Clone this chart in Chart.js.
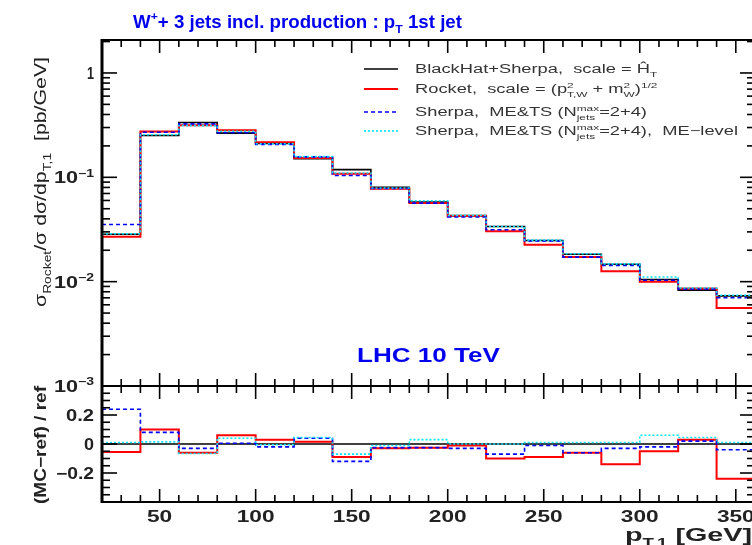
<!DOCTYPE html>
<html>
<head>
<meta charset="utf-8">
<script src="https://cdn.jsdelivr.net/npm/chart.js@4.4.1/dist/chart.umd.min.js"></script>
<style>
  html, body { margin: 0; padding: 0; background: #fff; overflow: hidden; }
  #wrap { width: 752px; height: 545px; overflow: hidden; }
</style>
</head>
<body>
<div id="wrap"><canvas id="plot" width="760" height="545"></canvas></div>
<script>
// bin edges of p_T,1 [GeV]
const binEdges = [20, 40, 60, 80, 100, 120, 140, 160, 180, 200, 220, 240, 260, 280, 300, 320, 340, 360];

// dσ/dp_T [pb/GeV], one value per bin
const blackHat = [0.0285, 0.252, 0.335, 0.265, 0.211, 0.151, 0.1186, 0.080, 0.058, 0.043, 0.0338, 0.0248, 0.0183, 0.0147, 0.0105, 0.0083, 0.0073];
const rocket   = [0.0270, 0.275, 0.315, 0.283, 0.217, 0.153, 0.108, 0.0776, 0.0566, 0.0426, 0.0304, 0.0226, 0.0172, 0.0126, 0.0100, 0.0086, 0.0056];
const sherpa   = [0.0353, 0.270, 0.325, 0.267, 0.207, 0.157, 0.104, 0.078, 0.0566, 0.0417, 0.0314, 0.0245, 0.0172, 0.0143, 0.0103, 0.0085, 0.0070];
const sherpaME = [0.0288, 0.256, 0.313, 0.276, 0.210, 0.158, 0.110, 0.079, 0.0597, 0.043, 0.0338, 0.0250, 0.0185, 0.0148, 0.0111, 0.0087, 0.0074];

// (MC-ref)/ref, ref = BlackHat+Sherpa
const blackHatRatio = [0, 0, 0, 0, 0, 0, 0, 0, 0, 0, 0, 0, 0, 0, 0, 0, 0];
const rocketRatio   = [-0.055, 0.10, -0.06, 0.06, 0.03, 0.015, -0.09, -0.03, -0.025, -0.01, -0.10, -0.09, -0.06, -0.14, -0.05, 0.03, -0.24];
const sherpaRatio   = [0.24, 0.08, -0.03, 0.005, -0.02, 0.04, -0.12, -0.025, -0.025, -0.03, -0.07, -0.01, -0.06, -0.03, -0.02, 0.02, -0.04];
const sherpaMERatio = [0.01, 0.015, -0.065, 0.04, -0.005, 0.045, -0.07, -0.01, 0.03, 0, 0, 0.01, 0.01, 0.01, 0.06, 0.045, 0.01];

// tick labels
const xTickValues = [50, 100, 150, 200, 250, 300, 350];
const topTickValues = [1, 0.1, 0.01, 0.001];
const topTickLabels = [[{t: "1"}], [{t: "10"}, {sup: "\u22121"}], [{t: "10"}, {sup: "\u22122"}], [{t: "10"}, {sup: "\u22123"}]];
const ratioTickValues = [0.2, 0, -0.2];
const ratioTickLabels = ["0.2", "0", "\u22120.2"];

const FONT = "'Liberation Sans', Arial, Helvetica, sans-serif";

function steps(vals) {
  const pts = vals.map((v, i) => ({ x: binEdges[i], y: v }));
  pts.push({ x: binEdges[vals.length], y: vals[vals.length - 1] });
  return pts;
}

// draw text made of normal / superscript / subscript pieces
function drawRich(ctx, x, y, segs, size, weight, measureOnly) {
  let cx = x;
  const small = size * 0.65;
  segs.forEach((s) => {
    if (s.t !== undefined) {
      ctx.font = weight + " " + size + "px " + FONT;
      if (!measureOnly) ctx.fillText(s.t, cx, y);
      cx += ctx.measureText(s.t).width;
    } else {
      ctx.font = weight + " " + small + "px " + FONT;
      let w1 = 0, w2 = 0;
      if (s.sup) {
        if (!measureOnly) ctx.fillText(s.sup, cx, y - size * 0.42);
        w1 = ctx.measureText(s.sup).width;
      }
      if (s.sub) {
        if (!measureOnly) ctx.fillText(s.sub, cx, y + size * 0.3);
        w2 = ctx.measureText(s.sub).width;
      }
      cx += Math.max(w1, w2);
    }
  });
  return cx - x;
}

// text stretched horizontally to a given width; align: 'left' | 'right' | 'center'
function drawFit(ctx, x, y, segs, size, weight, color, width, align, rotate) {
  ctx.save();
  ctx.fillStyle = color;
  ctx.textBaseline = "alphabetic";
  ctx.textAlign = "left";
  const w = drawRich(ctx, 0, 0, segs, size, weight, true);
  const sx = width ? width / w : 1;
  ctx.translate(x, y);
  if (rotate) ctx.rotate(-Math.PI / 2);
  ctx.scale(sx, 1);
  let x0 = 0;
  if (align === "right") x0 = -w;
  if (align === "center") x0 = -w / 2;
  drawRich(ctx, x0, 0, segs, size, weight, false);
  ctx.restore();
  return w * sx;
}

function line(ctx, x1, y1, x2, y2) {
  ctx.beginPath();
  ctx.moveTo(x1, y1);
  ctx.lineTo(x2, y2);
  ctx.stroke();
}

const framePlugin = {
  id: "frame",
  afterDraw(chart) {
    const ctx = chart.ctx;
    const xs = chart.scales.x, ys = chart.scales.y, rs = chart.scales.ratio;
    const L = chart.chartArea.left, R = chart.chartArea.right;
    const panels = [[ys.top, ys.bottom], [rs.top, rs.bottom]];

    ctx.save();
    ctx.strokeStyle = "#000";
    ctx.lineCap = "butt";

    // ticks along x, both panels, top and bottom edges, pointing inside
    ctx.lineWidth = 1.6;
    for (let v = 20; v <= 360; v += 10) {
      const px = xs.getPixelForValue(v);
      const len = v % 50 === 0 ? 13 : 7;
      panels.forEach(([t, b]) => {
        line(ctx, px, t, px, t + len);
        line(ctx, px, b, px, b - len);
      });
    }
    // log ticks
    for (let d = -3; d <= 0; d++) {
      for (let k = 1; k <= 9; k++) {
        const v = k * Math.pow(10, d);
        if (v > ys.max) break;
        const py = ys.getPixelForValue(v);
        const len = k === 1 ? 15 : 8;
        line(ctx, L, py, L + len, py);
        line(ctx, R, py, R - len, py);
      }
    }
    // ratio ticks
    for (let i = -8; i <= 8; i++) {
      const v = i * 0.05;
      const py = rs.getPixelForValue(v);
      const len = i % 4 === 0 ? 15 : 8;
      line(ctx, L, py, L + len, py);
      line(ctx, R, py, R - len, py);
    }

    // frames
    ctx.lineWidth = 2;
    panels.forEach(([t, b]) => ctx.strokeRect(L, t, R - L, b - t));
    ctx.lineWidth = 3;
    line(ctx, L, ys.top - 1, L, rs.bottom + 1);
    ctx.restore();

    const tickCol = "#222";
    // x tick labels
    xTickValues.forEach((v) => {
      drawFit(ctx, xs.getPixelForValue(v), 522, [{ t: String(v) }], 16, "bold", tickCol, String(v).length * 12.6, "center");
    });
    // top y tick labels
    topTickValues.forEach((v, i) => {
      const py = ys.getPixelForValue(v);
      const w = i === 0 ? 7 : 40;
      drawFit(ctx, 94, py + 6, topTickLabels[i], 16, "bold", tickCol, w, "right");
    });
    // ratio tick labels
    ratioTickValues.forEach((v, i) => {
      const py = rs.getPixelForValue(v);
      const w = [28, 10, 38][i];
      drawFit(ctx, 94, py + 6, [{ t: ratioTickLabels[i] }], 16, "bold", tickCol, w, "right");
    });

    // title
    drawFit(ctx, 133, 28, [{ t: "W" }, { sup: "+" }, { t: "+ 3 jets incl. production : p" }, { sub: "T" }, { t: " 1st jet" }],
      18, "bold", "#0000ee", 329, "left");
    // LHC label
    drawFit(ctx, 357, 362, [{ t: "LHC 10 TeV" }], 20, "bold", "#0000ee", 143, "left");
    // x title
    drawFit(ctx, 752, 541, [{ t: "p" }, { sub: "T,1" }, { t: " [GeV]" }], 19, "bold", tickCol, 127, "right");
    // y titles
    drawFit(ctx, 46, 182, [{ t: "\u03c3" }, { sub: "Rocket" }, { t: "/\u03c3 d\u03c3/dp" }, { sub: "T,1" }, { t: "  [pb/GeV]" }],
      16, "normal", tickCol, 250, "center", true);
    drawFit(ctx, 46, 445, [{ t: "(MC\u2212ref) / ref" }], 16, "bold", tickCol, 118, "center", true);

    // legend
    const legendRows = [
      { y: 69, color: "#000", dash: [], width: 1.6, text: [{ t: "BlackHat+Sherpa,  scale = \u0124" }, { sub: "T" }] },
      { y: 89, color: "#ff0000", dash: [], width: 2, text: [{ t: "Rocket,  scale = (p" }, { sup: "2", sub: "T,W" }, { t: " + m" }, { sup: "2", sub: "W" }, { t: ")" }, { sup: "1/2" }] },
      { y: 112, color: "#0000ff", dash: [4, 3], width: 1.6, text: [{ t: "Sherpa,  ME&TS (N" }, { sup: "max", sub: "jets" }, { t: "=2+4)" }] },
      { y: 131, color: "#00e5ff", dash: [2, 2], width: 1.6, text: [{ t: "Sherpa,  ME&TS (N" }, { sup: "max", sub: "jets" }, { t: "=2+4),  ME\u2212level" }] },
    ];
    ctx.save();
    const wLast = drawRich(ctx, 0, 0, legendRows[3].text, 12.5, "normal", true);
    ctx.restore();
    const legScale = 323 / wLast;
    legendRows.forEach((row) => {
      ctx.save();
      ctx.strokeStyle = row.color;
      ctx.lineWidth = row.width;
      ctx.setLineDash(row.dash);
      line(ctx, 364, row.y, 398, row.y);
      ctx.restore();
      ctx.save();
      const w = drawRich(ctx, 0, 0, row.text, 12.5, "normal", true);
      ctx.restore();
      drawFit(ctx, 415, row.y + 4, row.text, 12.5, "normal", "#333", w * legScale, "left");
    });
  },
};

const commonLine = { pointRadius: 0, stepped: "before", tension: 0, fill: false };

new Chart(document.getElementById("plot"), {
  type: "line",
  data: {
    datasets: [
      { ...commonLine, label: "BlackHat+Sherpa", data: steps(blackHat), yAxisID: "y", borderColor: "#000", borderWidth: 1.6, order: 4 },
      { ...commonLine, label: "Rocket", data: steps(rocket), yAxisID: "y", borderColor: "#ff0000", borderWidth: 2, order: 3 },
      { ...commonLine, label: "Sherpa ME&TS", data: steps(sherpa), yAxisID: "y", borderColor: "#0000ff", borderWidth: 1.6, borderDash: [4, 3], order: 2 },
      { ...commonLine, label: "Sherpa ME-level", data: steps(sherpaME), yAxisID: "y", borderColor: "#00e5ff", borderWidth: 1.6, borderDash: [2, 2], order: 1 },
      { ...commonLine, label: "ref", data: steps(blackHatRatio), yAxisID: "ratio", borderColor: "#000", borderWidth: 1.6, order: 4 },
      { ...commonLine, label: "Rocket ratio", data: steps(rocketRatio), yAxisID: "ratio", borderColor: "#ff0000", borderWidth: 2, order: 3 },
      { ...commonLine, label: "Sherpa ratio", data: steps(sherpaRatio), yAxisID: "ratio", borderColor: "#0000ff", borderWidth: 1.6, borderDash: [4, 3], order: 2 },
      { ...commonLine, label: "Sherpa ME ratio", data: steps(sherpaMERatio), yAxisID: "ratio", borderColor: "#00e5ff", borderWidth: 1.6, borderDash: [2, 2], order: 1 },
    ],
  },
  options: {
    responsive: false,
    animation: false,
    devicePixelRatio: 1,
    layout: { padding: { left: 102, right: 5, top: 40, bottom: 43 } },
    plugins: { legend: { display: false }, tooltip: { enabled: false } },
    scales: {
      x: {
        type: "linear", min: 20, max: 360,
        ticks: { display: false }, grid: { display: false, drawTicks: false }, border: { display: false },
        afterFit: (s) => { s.height = 0; },
      },
      y: {
        type: "logarithmic", min: 0.001, max: 2.07, position: "left", stack: "panels", stackWeight: 346, weight: 1,
        ticks: { display: false }, grid: { display: false, drawTicks: false }, border: { display: false },
        afterFit: (s) => { s.width = 0; },
      },
      ratio: {
        axis: "y", type: "linear", min: -0.4, max: 0.4, position: "left", stack: "panels", stackWeight: 116, weight: 0,
        ticks: { display: false }, grid: { display: false, drawTicks: false }, border: { display: false },
        afterFit: (s) => { s.width = 0; },
      },
    },
  },
  plugins: [framePlugin],
});
</script>
</body>
</html>
